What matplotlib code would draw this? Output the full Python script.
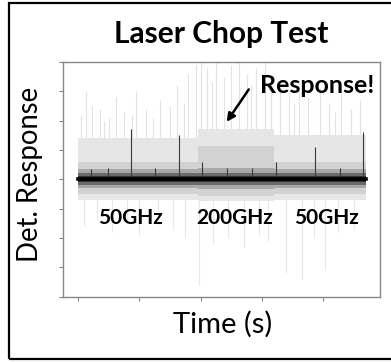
import matplotlib
matplotlib.use("Agg")
import matplotlib.pyplot as plt
from matplotlib.patches import Rectangle

plt.rcParams['font.family'] = ['Lato', 'DejaVu Sans']

# Chopping segments (time units) and the source frequency in each
seg_edges = [0.0, 1.95, 3.2, 4.7]
seg_labels = ["50GHz", "200GHz", "50GHz"]
baseline = 4.0

# Envelope levels per segment (upper, lower) for each noise layer, lightest first
outer_hi = [5.4, 5.7, 5.5]
outer_lo = [3.3, 3.25, 3.3]
mid_hi = [4.6, 5.15, 4.6]
mid_lo = [3.5, 3.45, 3.5]
inner_hi = [4.35, 4.4, 4.35]
inner_lo = [3.7, 3.68, 3.7]
dark_hi = [4.2, 4.22, 4.2]
dark_lo = [3.82, 3.8, 3.82]
core_hi = [4.1, 4.1, 4.1]
core_lo = [3.92, 3.9, 3.92]

# Sporadic excursions of the trace: time, peak
spike_up_t = [0.05, 0.13, 0.22, 0.35, 0.42, 0.5, 0.62, 0.75, 0.88, 0.95, 1.1, 1.22,
              1.34, 1.5, 1.62, 1.72, 1.8, 1.92, 2.0, 2.1, 2.18, 2.25, 2.38, 2.5,
              2.62, 2.75, 2.83, 2.9, 3.05, 3.15, 3.3, 3.45, 3.52, 3.6, 3.75, 3.95,
              4.1, 4.2, 4.3, 4.45, 4.6]
spike_up_v = [6.2, 7.0, 6.5, 6.4, 6.0, 6.1, 6.8, 6.3, 6.2, 7.0, 6.4, 6.1,
              6.7, 6.5, 7.2, 6.6, 7.6, 7.9, 8.0, 7.8, 7.3, 8.0, 7.5, 7.9,
              8.0, 7.6, 7.2, 7.8, 8.0, 7.4, 7.2, 7.0, 6.6, 7.3, 6.8, 7.1,
              6.6, 6.3, 6.9, 6.4, 6.7]
spike_dn_t = [0.1, 0.3, 0.55, 0.8, 1.0, 1.3, 1.55, 1.75, 1.97, 2.2, 2.45, 2.7,
              2.95, 3.1, 3.39, 3.65, 3.85, 4.03, 4.25, 4.5]
spike_dn_v = [2.4, 2.6, 2.2, 2.5, 2.1, 2.4, 2.3, 2.0, 0.4, 1.8, 2.0, 1.7,
              2.1, 1.9, 0.8, 0.6, 2.0, 0.9, 2.2, 2.3]

# Chopper transitions: time, peak
chop_t = [0.21, 0.49, 0.86, 1.26, 1.65, 2.02, 2.43, 2.84, 3.23, 3.87, 4.27, 4.65]
chop_v = [4.35, 4.4, 5.7, 4.4, 5.5, 4.6, 4.4, 4.4, 4.6, 5.1, 4.4, 5.6]

fig = plt.figure(figsize=(3.91, 3.62), dpi=100)
ax = fig.add_axes([0.161, 0.180, 0.811, 0.649])

def draw_layer(hi, lo, color, z):
    for i in range(len(seg_labels)):
        ax.fill_between([seg_edges[i], seg_edges[i + 1]], [lo[i], lo[i]], [hi[i], hi[i]],
                        color=color, lw=0, zorder=z)

ax.vlines(spike_up_t, baseline, spike_up_v, color="#e3e3e3", lw=0.8, zorder=1)
ax.vlines(spike_dn_t, spike_dn_v, baseline, color="#e8e8e8", lw=0.8, zorder=1)
draw_layer(outer_hi, outer_lo, "#e6e6e6", 2)
draw_layer(mid_hi, mid_lo, "#d2d2d2", 3)
draw_layer(inner_hi, inner_lo, "#a8a8a8", 4)
draw_layer(dark_hi, dark_lo, "#6a6a6a", 4.5)
draw_layer(core_hi, core_lo, "#303030", 5)
ax.vlines(chop_t, baseline, chop_v, color="#3a3a3a", lw=0.8, zorder=6)
ax.plot([seg_edges[0], seg_edges[-1]], [baseline, baseline], color="black", lw=2.6, zorder=7)

ax.set_xlim(-0.25, 4.93)
ax.set_ylim(0, 8)
ax.set_xticks(range(5))
ax.set_yticks(range(9))
ax.set_xticklabels([])
ax.set_yticklabels([])
ax.tick_params(direction="out", length=3, width=0.8, color="#888888")
for s in ax.spines.values():
    s.set_color("#888888")
    s.set_linewidth(1.0)

centers = [0.85, 2.55, 4.06]
for c, lab in zip(centers, seg_labels):
    ax.text(c, 2.48, lab, ha="center", va="baseline", fontsize=15, fontweight="bold",
            color="black", zorder=10)

ax.text(3.90, 6.94, "Response!", ha="center", va="baseline", fontsize=18,
        fontweight="bold", color="black", zorder=10)
ax.annotate("", xy=(2.40, 5.88), xytext=(2.81, 7.14),
            arrowprops=dict(arrowstyle="-|>", color="black", lw=1.8,
                            mutation_scale=12), zorder=10)

fig.text(0.565, 0.881, "Laser Chop Test", ha="center", va="baseline",
         fontsize=21.5, fontweight="bold")
fig.text(0.077, 0.519, "Det. Response", ha="center", va="center", rotation=90,
         fontsize=19.8)
fig.text(0.570, 0.080, "Time (s)", ha="center", va="baseline", fontsize=21)

fig.patches.append(Rectangle((0.022, 0.008), 1.05, 0.984, transform=fig.transFigure,
                             fill=False, edgecolor="black", lw=1.6, clip_on=False))

fig.savefig("out.png", dpi=100, facecolor="white")
